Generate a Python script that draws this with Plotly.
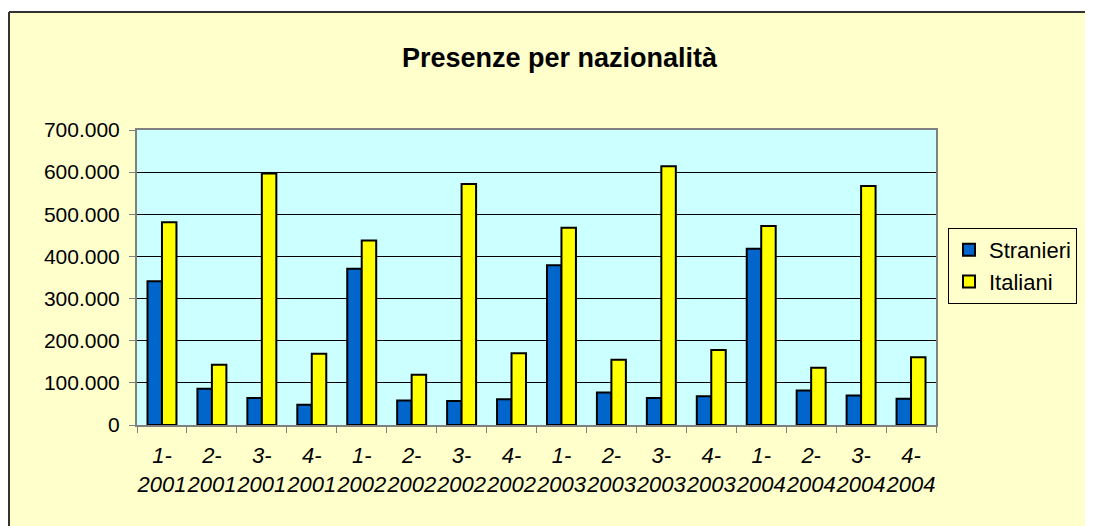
import plotly.graph_objects as go

categories = ["1-<br>2001", "2-<br>2001", "3-<br>2001", "4-<br>2001",
              "1-<br>2002", "2-<br>2002", "3-<br>2002", "4-<br>2002",
              "1-<br>2003", "2-<br>2003", "3-<br>2003", "4-<br>2003",
              "1-<br>2004", "2-<br>2004", "3-<br>2004", "4-<br>2004"]
stranieri = [341000, 86000, 64000, 48000, 371000, 58000, 57000, 61000,
             379000, 77000, 64000, 68000, 418000, 82000, 70000, 62000]
italiani = [481000, 143000, 597000, 169000, 438000, 119000, 572000, 170000,
            468000, 155000, 614000, 178000, 472000, 136000, 567000, 161000]
y_ticks = [0, 100000, 200000, 300000, 400000, 500000, 600000, 700000]

# page body has an 8px margin; work in figure coordinates = screen - 8
OFF = 8
W, H = 1093 - OFF, 526 - OFF
L, R, T, B = 137 - OFF, 936 - OFF, 130 - OFF, 425 - OFF


def px2x(px):
    return (px - OFF - L) / (R - L)


def px2y(py):
    return (B - (py - OFF)) / (B - T)


fig = go.Figure()
fig.add_trace(go.Bar(x=categories, y=stranieri, name="Stranieri",
                     marker=dict(color="#0066CC", line=dict(color="#000000", width=2))))
fig.add_trace(go.Bar(x=categories, y=italiani, name="Italiani",
                     marker=dict(color="#FFFF00", line=dict(color="#000000", width=2))))

shapes = [
    dict(type="rect", xref="paper", yref="paper", x0=px2x(-5), x1=px2x(9), y0=px2y(600), y1=px2y(-5),
         fillcolor="white", line=dict(width=0), layer="below"),
    dict(type="rect", xref="paper", yref="paper", x0=px2x(-5), x1=px2x(1200), y0=px2y(12), y1=px2y(-5),
         fillcolor="white", line=dict(width=0), layer="below"),
    dict(type="line", xref="paper", yref="paper", x0=px2x(9), x1=px2x(1200), y0=px2y(12), y1=px2y(12),
         line=dict(color="#333333", width=2), layer="below"),
    dict(type="line", xref="paper", yref="paper", x0=px2x(9), x1=px2x(9), y0=px2y(12), y1=px2y(600),
         line=dict(color="#333333", width=2), layer="below"),
]

fig.update_layout(
    width=W, height=H,
    margin=dict(l=L, r=W - R, t=T, b=H - B, autoexpand=False),
    paper_bgcolor="#FFFFCC",
    plot_bgcolor="#CCFFFF",
    separators=",.",
    font=dict(family="Arial, Liberation Sans, sans-serif", color="#000000"),
    title=dict(text="<b>Presenze per nazionalità</b>", x=(559.5 - OFF) / W, y=1 - (58 - OFF) / H,
               xref="container", yref="container", xanchor="center", yanchor="middle",
               font=dict(size=27, color="#000000")),
    barmode="group", bargap=0.42, bargroupgap=0,
    showlegend=True,
    legend=dict(x=px2x(948), y=px2y(228), xanchor="left", yanchor="top",
                bgcolor="#FFFFCC", bordercolor="#000000", borderwidth=1,
                font=dict(size=22), tracegroupgap=0),
    shapes=shapes,
    xaxis=dict(type="category", tickson="boundaries", ticks="outside", ticklen=6,
               tickcolor="#808080", showline=True, linecolor="#808080", linewidth=2,
               mirror=True, showgrid=False, tickangle=0, ticklabelstandoff=10,
               tickfont=dict(size=22, style="italic")),
    yaxis=dict(range=[0, 700000], tickvals=y_ticks, tickformat=",.0f", ticks="outside",
               ticklen=6, tickcolor="#808080", showline=True, linecolor="#808080",
               linewidth=2, mirror=True, showgrid=True, gridcolor="#000000", gridwidth=1,
               zeroline=False, ticklabelstandoff=5, tickfont=dict(size=21)),
)

fig.write_html("out.html")
